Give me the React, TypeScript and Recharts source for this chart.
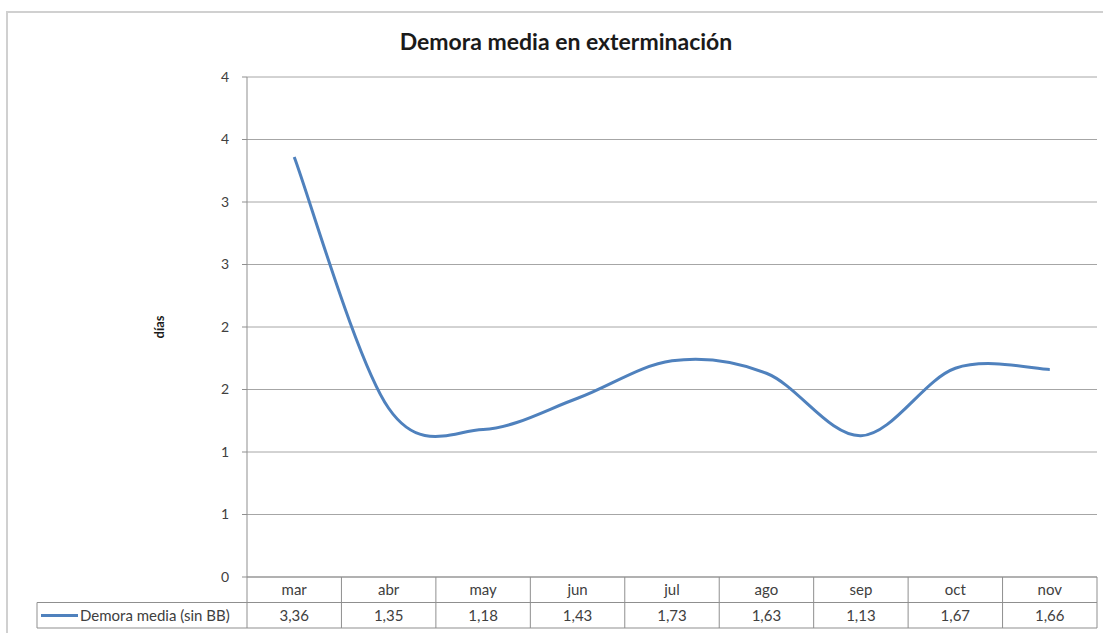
import React from 'react';
import { ComposedChart, Line, XAxis, YAxis, CartesianGrid } from 'recharts';

const categories = ['mar', 'abr', 'may', 'jun', 'jul', 'ago', 'sep', 'oct', 'nov'];
const demoraMedia = [3.36, 1.35, 1.18, 1.43, 1.73, 1.63, 1.13, 1.67, 1.66];
const yTicks = [0, 0.5, 1, 1.5, 2, 2.5, 3, 3.5, 4];
const seriesName = 'Demora media (sin BB)';
const chartTitle = 'Demora media en exterminación';
const yAxisTitle = 'días';

const data = categories.map((c, i) => ({ cat: c, value: demoraMedia[i] }));

const CHART_W = 1103;
const CHART_H = 633;
const MARGIN = { top: 77, right: 6, bottom: 5, left: 0 };
const YAXIS_W = 247;
const XAXIS_H = 51;
const PLOT_W = CHART_W - MARGIN.left - MARGIN.right - YAXIS_W;
const COL_W = PLOT_W / categories.length;
const TABLE_LEFT = 37;
const ROW_H = 25.5;
const LINE_COLOR = '#4F81BD';
const TABLE_STROKE = '#8f8f8f';
const GRID_STROKE = '#a6a6a6';
const FONT = 'Lato, "Open Sans", sans-serif';
const TABLE_FS = 15;

const fmt = (v: number) => v.toFixed(2).replace('.', ',');

// Excel-like smoothed line (cardinal spline, tension 1/6)
function excelSmooth(context: any) {
  let pts: number[][] = [];
  return {
    areaStart() {},
    areaEnd() {},
    lineStart() {
      pts = [];
    },
    lineEnd() {
      if (!pts.length) return;
      context.moveTo(pts[0][0], pts[0][1]);
      for (let i = 0; i < pts.length - 1; i++) {
        const p0 = pts[i - 1] || pts[i];
        const p1 = pts[i];
        const p2 = pts[i + 1];
        const p3 = pts[i + 2] || p2;
        context.bezierCurveTo(
          p1[0] + (p2[0] - p0[0]) / 6,
          p1[1] + (p2[1] - p0[1]) / 6,
          p2[0] - (p3[0] - p1[0]) / 6,
          p2[1] - (p3[1] - p1[1]) / 6,
          p2[0],
          p2[1]
        );
      }
    },
    point(x: number, y: number) {
      pts.push([+x, +y]);
    },
  };
}

const TableTick = (props: any) => {
  const { x, y, payload, index } = props;
  const left = x - COL_W / 2;
  const right = x + COL_W / 2;
  const rowMid = y + ROW_H;
  const bottom = y + ROW_H * 2;
  const plotRight = MARGIN.left + YAXIS_W + PLOT_W;
  return (
    <g>
      {index === 0 && (
        <g>
          <line x1={TABLE_LEFT} y1={rowMid} x2={plotRight} y2={rowMid} stroke={TABLE_STROKE} strokeWidth={1} />
          <line x1={TABLE_LEFT} y1={bottom} x2={plotRight} y2={bottom} stroke={TABLE_STROKE} strokeWidth={1} />
          <line x1={TABLE_LEFT} y1={rowMid} x2={TABLE_LEFT} y2={bottom} stroke={TABLE_STROKE} strokeWidth={1} />
          <line x1={left} y1={y} x2={left} y2={bottom} stroke={TABLE_STROKE} strokeWidth={1} />
          <line x1={TABLE_LEFT + 4} y1={rowMid + 13} x2={TABLE_LEFT + 41} y2={rowMid + 13} stroke={LINE_COLOR} strokeWidth={3} />
          <text x={TABLE_LEFT + 43} y={rowMid + 18} fontSize={TABLE_FS} fill="#404040" fontFamily={FONT}>
            {seriesName}
          </text>
        </g>
      )}
      <line x1={right} y1={y} x2={right} y2={bottom} stroke={TABLE_STROKE} strokeWidth={1} />
      <text x={x} y={y + 18} textAnchor="middle" fontSize={TABLE_FS} fill="#404040" fontFamily={FONT}>
        {payload.value}
      </text>
      <text x={x} y={rowMid + 18} textAnchor="middle" fontSize={TABLE_FS} fill="#404040" fontFamily={FONT}>
        {fmt(demoraMedia[index])}
      </text>
    </g>
  );
};

export default function App() {
  return (
    <div style={{ position: 'absolute', left: 0, top: 0, width: CHART_W, height: CHART_H, background: '#fff', overflow: 'hidden' }}>
      <div
        style={{
          position: 'absolute',
          left: 6,
          top: 11,
          width: 1200,
          height: 700,
          borderTop: '2px solid #d0d0d0',
          borderLeft: '2px solid #d0d0d0',
        }}
      />
      <div
        style={{
          position: 'absolute',
          left: 316,
          top: 26,
          width: 500,
          textAlign: 'center',
          fontFamily: FONT,
          fontWeight: 700,
          fontSize: 23,
          color: '#1a1a1a',
          lineHeight: '30px',
        }}
      >
        {chartTitle}
      </div>
      <div style={{ position: 'absolute', left: 0, top: 0 }}>
        <ComposedChart width={CHART_W} height={CHART_H} data={data} margin={MARGIN}>
          <CartesianGrid vertical={false} stroke={GRID_STROKE} strokeWidth={1} />
          <YAxis
            type="number"
            domain={[0, 4]}
            ticks={yTicks}
            interval={0}
            width={YAXIS_W}
            tickFormatter={(v: number) => String(Math.round(v))}
            tickSize={5}
            tickMargin={13}
            stroke={TABLE_STROKE}
            tick={{ fill: '#404040', fontSize: 14, fontFamily: FONT }}
            label={{
              content: (p: any) => (
                <text
                  x={161}
                  y={327}
                  transform="rotate(-90 161 327)"
                  textAnchor="middle"
                  dominantBaseline="middle"
                  fontSize={13}
                  fontWeight={700}
                  fill="#1a1a1a"
                  fontFamily={FONT}
                >
                  {yAxisTitle}
                </text>
              ),
            }}
          />
          <XAxis
            dataKey="cat"
            type="category"
            height={XAXIS_H}
            interval={0}
            padding={{ left: COL_W / 2, right: COL_W / 2 }}
            tickLine={false}
            tickSize={0}
            tickMargin={0}
            stroke={TABLE_STROKE}
            tick={<TableTick />}
          />
          <Line
            dataKey="value"
            name={seriesName}
            type={excelSmooth as any}
            stroke={LINE_COLOR}
            strokeWidth={3}
            dot={false}
            activeDot={false}
            isAnimationActive={false}
          />
        </ComposedChart>
      </div>
    </div>
  );
}
